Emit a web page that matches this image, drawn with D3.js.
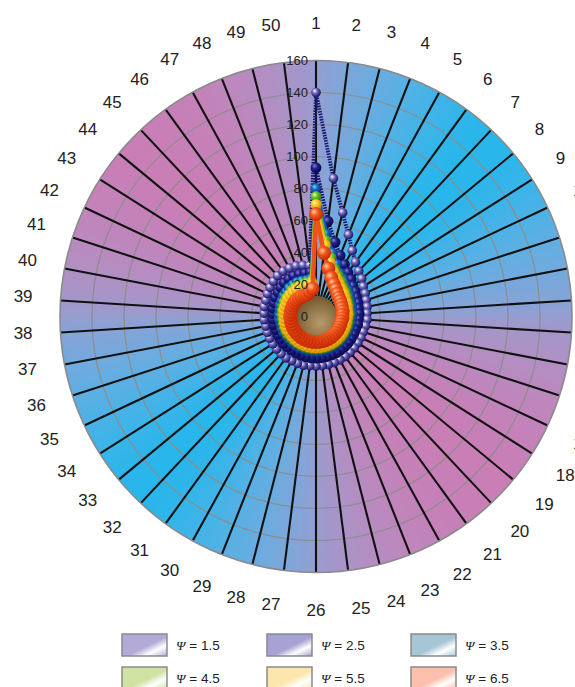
<!DOCTYPE html>
<html>
<head>
<meta charset="utf-8">
<script src="https://cdn.jsdelivr.net/npm/d3@7"></script>
<style>
  body { margin: 0; background: #fff; }
  svg { display: block; }
</style>
</head>
<body>
<svg id="chart" width="575" height="687"></svg>
<script>
// Angular categories (50 directions) and radial ticks
const spokes = d3.range(1, 51);
const radialTicks = [0, 20, 40, 60, 80, 100, 120, 140, 160];

// Series labels (Ψ values) and their values on each of the 50 directions
const psiNames = ["1.5", "2.5", "3.5", "4.5", "5.5", "6.5"];

const psi15 = [140, 87, 67, 55, 47, 42, 39, 37, 35, 34,
               33, 32.5, 32, 32, 31.5, 31, 31, 31, 31, 31,
               31, 31, 31, 31, 31, 31, 31, 31.5, 31.5, 31.5,
               32, 32, 32, 32, 32, 32, 32, 32.5, 32.5, 33,
               33, 33.5, 34, 34.5, 35, 35, 34.5, 34, 33, 32];
const psi25 = [93, 60, 48, 41, 37, 34, 32, 30, 29, 28,
               27.5, 27, 27, 26.5, 26.5, 26, 26, 26, 26, 26,
               26, 26, 26, 26, 26, 26, 26, 26, 26, 26,
               26, 26, 26.5, 26.5, 26.5, 26.5, 27, 27, 27, 27.5,
               27.5, 28, 28, 28.5, 29, 29, 29, 28.5, 28, 28];
const psi35 = [80, 52, 41, 35, 31, 29, 27, 26, 25, 24,
               23.5, 23, 23, 22.5, 22.5, 22, 22, 22, 22, 22,
               22, 22, 22, 22, 22, 22, 22, 22, 22, 22,
               22, 22, 22, 22, 22.5, 22.5, 22.5, 23, 23, 23,
               23.5, 23.5, 24, 24, 24.5, 24.5, 24.5, 24, 23.5, 24];
const psi45 = [75, 48, 38, 32, 29, 27, 25, 24, 23, 22,
               21.5, 21, 21, 20.5, 20.5, 20.5, 20.5, 20.5, 20.5, 20.5,
               20.5, 20.5, 20.5, 20.5, 20.5, 20.5, 20.5, 20.5, 20.5, 20.5,
               20.5, 20.5, 20.5, 21, 21, 21, 21, 21, 21.5, 21.5,
               21.5, 22, 22, 22, 22.5, 22.5, 22.5, 22, 22, 22.5];
const psi55 = [70, 45, 35, 30, 27, 25, 23.5, 22.5, 21.5, 21,
               20.5, 20, 20, 19.5, 19.5, 19.5, 19.5, 19.5, 19.5, 19.5,
               19.5, 19.5, 19.5, 19.5, 19.5, 19.5, 19.5, 19.5, 19.5, 19.5,
               19.5, 19.5, 19.5, 19.5, 20, 20, 20, 20, 20, 20.5,
               20.5, 20.5, 21, 21, 21, 21, 21, 20.5, 20.5, 21];
const psi65 = [64, 40, 31, 26, 23, 21, 19.5, 18.5, 18, 17.5,
               17, 17, 16.5, 16.5, 16, 16, 16, 16, 16, 16,
               16, 16, 16, 16, 16, 16, 16, 16, 16, 16,
               16, 16, 16, 16, 16, 16, 16, 16, 16, 16,
               16, 16, 16, 16, 15.5, 15.5, 15, 15, 16, 17.5];

const seriesValues = [psi15, psi25, psi35, psi45, psi55, psi65];

// Styling per series: sphere gradient stops, marker size, connecting line
const seriesStyle = [
  { hi: "#ffffff", mid: "#6a60b8", lo: "#14125e", size: 4.8, line: "#1a1970", lw: 3.8, dash: "1.6,1.1" },
  { hi: "#8080d4", mid: "#1e1e86", lo: "#08084a", size: 5.4, line: "#14146a", lw: 3.8, dash: "1.6,1.1" },
  { hi: "#56e4f4", mid: "#1a62c0", lo: "#0e2c80", size: 5.4, line: "#1a58b0", lw: 4, dash: null },
  { hi: "#f0fba8", mid: "#62c02a", lo: "#2a7814", size: 5.4, line: "#58b42a", lw: 4, dash: null },
  { hi: "#fff7a8", mid: "#f8c81c", lo: "#d88a06", size: 5.6, line: "#f4c020", lw: 4, dash: null },
  { hi: "#ffcaa8", mid: "#f4561a", lo: "#c42a04", size: 7.0, line: "#ec521c", lw: 4.5, dash: null }
];
const legendFill = ["#b3aad8", "#a7a2d4", "#a6c6d6", "#cfe2a2", "#fde5ae", "#fdbfae"];

const svg = d3.select("#chart");
const cx = 316, cy = 316.5, R = 256;

const angle = d3.scaleLinear().domain([1, 51]).range([0, 2 * Math.PI]);
const radius = d3.scaleLinear().domain([0, 160]).range([0, R]);

const defs = svg.append("defs");
const g = svg.append("g").attr("transform", `translate(${cx},${cy})`);

// Background disc: angular colour field, pink on the NW/SE diagonals, blue on NE/SW
const pink = d3.rgb(201, 126, 182), blue = d3.rgb(40, 182, 235);
const bgColor = d3.interpolateLab(pink, blue);
const nSeg = 360;
const segArc = d3.arc().innerRadius(0).outerRadius(R);
g.append("g").selectAll("path")
  .data(d3.range(nSeg))
  .join("path")
  .attr("d", i => segArc({ startAngle: i / nSeg * 2 * Math.PI, endAngle: (i + 1.6) / nSeg * 2 * Math.PI }))
  .attr("fill", i => {
    const a = (i + 0.5) / nSeg * 2 * Math.PI;
    const s = Math.sin(2 * a);
    const t = 0.5 + 0.5 * Math.sign(s) * Math.pow(Math.abs(s), 0.75);
    return bgColor(t);
  });

// Concentric grid rings
g.append("g").selectAll("circle")
  .data(radialTicks.filter(d => d > 0 && d < 160))
  .join("circle")
  .attr("r", d => radius(d))
  .attr("fill", "none")
  .attr("stroke", "#8c8c8c")
  .attr("stroke-width", 1.2);

// Spokes
g.append("g").selectAll("line")
  .data(spokes)
  .join("line")
  .attr("x1", 0).attr("y1", 0)
  .attr("x2", d => d3.pointRadial(angle(d), R)[0])
  .attr("y2", d => d3.pointRadial(angle(d), R)[1])
  .attr("stroke", "#111")
  .attr("stroke-width", 2.1);

// Outer rim
g.append("circle").attr("r", R).attr("fill", "none")
  .attr("stroke", "#8a8a8a").attr("stroke-width", 1.6);

// Central floor disc
const floorGrad = defs.append("radialGradient").attr("id", "floor")
  .attr("cx", "60%").attr("cy", "65%").attr("r", "70%");
floorGrad.append("stop").attr("offset", "0%").attr("stop-color", "#b89a6c");
floorGrad.append("stop").attr("offset", "100%").attr("stop-color", "#6e5228");
g.append("circle").attr("r", radius(13)).attr("fill", "url(#floor)");

// Sphere gradients
seriesStyle.forEach((s, i) => {
  const rg = defs.append("radialGradient").attr("id", "ball" + i)
    .attr("cx", "40%").attr("cy", "38%").attr("r", "62%")
    .attr("fx", "36%").attr("fy", "32%");
  rg.append("stop").attr("offset", "0%").attr("stop-color", s.hi);
  rg.append("stop").attr("offset", "45%").attr("stop-color", s.mid);
  rg.append("stop").attr("offset", "100%").attr("stop-color", s.lo);
});

// Series: closed connecting line plus sphere markers
const line = d3.lineRadial()
  .angle((d, i) => angle(spokes[i]))
  .radius(d => radius(d))
  .curve(d3.curveLinearClosed);

seriesValues.forEach((vals, si) => {
  const s = seriesStyle[si];
  const sg = g.append("g");
  sg.append("path")
    .attr("d", line(vals))
    .attr("fill", "none")
    .attr("stroke", s.line)
    .attr("stroke-width", s.lw)
    .attr("stroke-dasharray", s.dash)
    .attr("stroke-linejoin", "round");
  sg.selectAll("circle")
    .data(vals)
    .join("circle")
    .attr("cx", (d, i) => d3.pointRadial(angle(spokes[i]), radius(d))[0])
    .attr("cy", (d, i) => d3.pointRadial(angle(spokes[i]), radius(d))[1])
    .attr("r", s.size)
    .attr("fill", `url(#ball${si})`);
});

// Radial tick labels along the first spoke
g.append("g").selectAll("text")
  .data(radialTicks)
  .join("text")
  .attr("x", -8)
  .attr("y", d => -radius(d))
  .attr("text-anchor", "end")
  .attr("dominant-baseline", "central")
  .attr("font-family", "Liberation Sans, Arial, sans-serif")
  .attr("font-size", 13)
  .attr("fill", "#222")
  .text(d => d);

// Direction labels around the disc
const labelR = 284, labelCy = -1.5;
g.append("g").selectAll("text")
  .data(spokes)
  .join("text")
  .each(function (d) {
    const a = angle(d);
    const sx = Math.sin(a), cyv = -Math.cos(a);
    const x = labelR * sx;
    const y = labelCy + labelR * cyv + cyv * 7.5 + (sx > 0 && cyv > 0 ? 4 : 0);
    d3.select(this)
      .attr("x", x)
      .attr("y", y)
      .attr("text-anchor", sx > 0.12 ? "start" : (sx < -0.12 ? "end" : "middle"))
      .attr("dominant-baseline", "central");
  })
  .attr("font-family", "Liberation Sans, Arial, sans-serif")
  .attr("font-size", 17)
  .attr("fill", "#222")
  .text(d => d);

// Legend
const legendX = [122, 267, 411], legendY = [634, 667];
psiNames.forEach((name, i) => {
  const col = i % 3, row = Math.floor(i / 3);
  const lg = defs.append("linearGradient").attr("id", "leg" + i)
    .attr("x1", "0%").attr("y1", "0%").attr("x2", "100%").attr("y2", "100%");
  const c = legendFill[i];
  lg.append("stop").attr("offset", "0%").attr("stop-color", c);
  lg.append("stop").attr("offset", "55%").attr("stop-color", c);
  lg.append("stop").attr("offset", "75%").attr("stop-color", "#ffffff");
  lg.append("stop").attr("offset", "100%").attr("stop-color", c);
  const item = svg.append("g").attr("transform", `translate(${legendX[col]},${legendY[row]})`);
  item.append("rect")
    .attr("width", 45).attr("height", 22)
    .attr("fill", `url(#leg${i})`)
    .attr("stroke", "#8a8a8a").attr("stroke-width", 1.5);
  const t = item.append("text")
    .attr("x", 54).attr("y", 11)
    .attr("dominant-baseline", "central")
    .attr("font-size", 13.5)
    .attr("fill", "#222");
  t.append("tspan").attr("font-family", "Liberation Serif, serif").attr("font-style", "italic").text("Ψ");
  t.append("tspan").attr("font-family", "Liberation Sans, Arial, sans-serif").text(" = " + name);
});
</script>
</body>
</html>
